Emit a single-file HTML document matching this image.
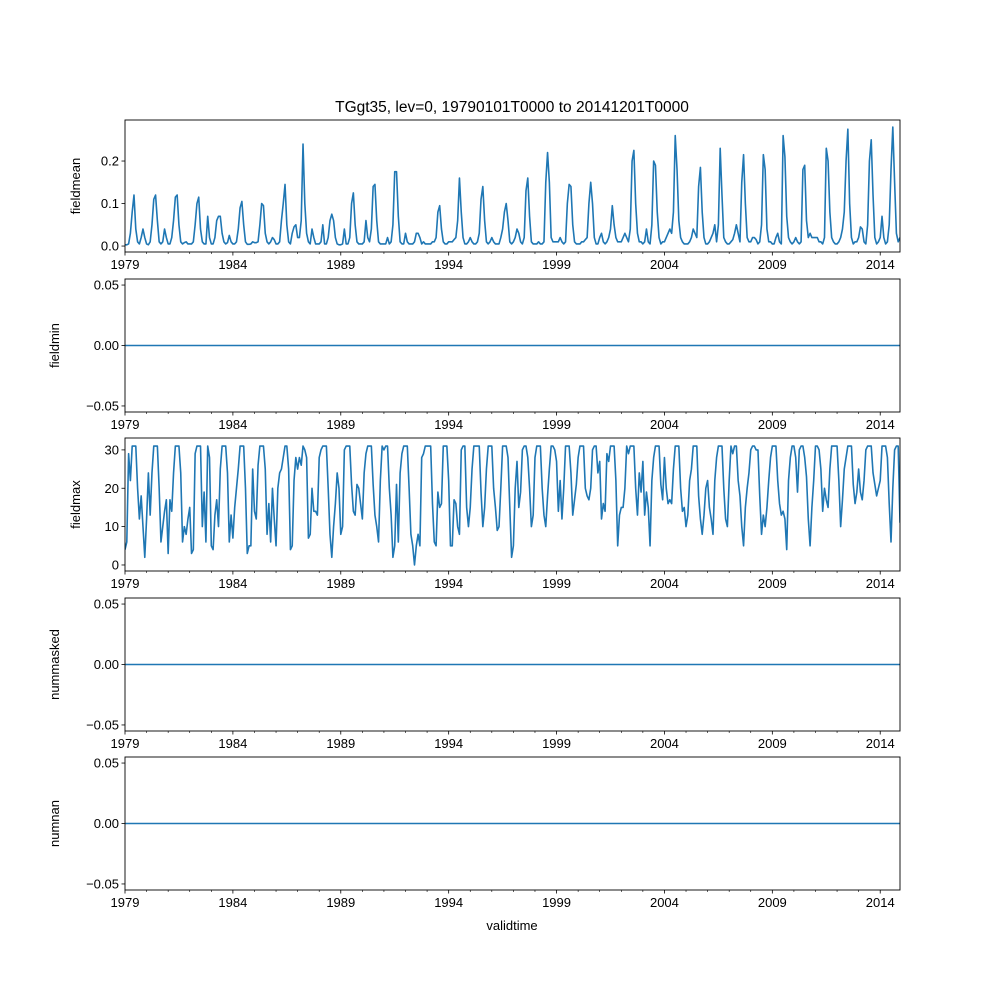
<!DOCTYPE html>
<html><head><meta charset="utf-8"><style>
body{margin:0;background:#fff}
svg text{font-family:"Liberation Sans","DejaVu Sans",sans-serif;font-size:13px;fill:#000}
</style></head><body>
<svg id="fig" width="1000" height="1000" viewBox="0 0 1000 1000" xmlns="http://www.w3.org/2000/svg">
<rect width="1000" height="1000" fill="#fff"/>
<text x="512" y="112" text-anchor="middle" style="font-size:15.5px">TGgt35, lev=0, 19790101T0000 to 20141201T0000</text>
<g id="plots"></g>
<text x="512" y="930" text-anchor="middle">validtime</text>
</svg>
<script>
const startYear = 1979;
const yearTicks = [1979,1984,1989,1994,1999,2004,2009,2014];
const fieldmean = [
[.003,.003,.005,.03,.08,.12,.04,.01,.005,.02,.04,.02],
[.005,.003,.01,.05,.11,.12,.06,.01,.005,.01,.04,.02],
[.005,.005,.02,.06,.115,.12,.05,.01,.005,.008,.01,.005],
[.005,.005,.01,.05,.10,.115,.04,.01,.005,.005,.07,.02],
[.005,.005,.02,.06,.07,.07,.03,.01,.005,.008,.025,.01],
[.005,.005,.01,.04,.09,.105,.05,.01,.004,.004,.005,.01],
[.008,.008,.01,.05,.10,.095,.03,.01,.005,.01,.02,.015],
[.005,.005,.01,.06,.10,.145,.05,.01,.005,.03,.045,.05],
[.02,.02,.06,.24,.10,.03,.01,.005,.04,.02,.005,.005],
[.005,.01,.05,.005,.005,.02,.06,.075,.06,.02,.005,.003],
[.003,.005,.04,.005,.005,.02,.10,.125,.05,.01,.005,.005],
[.005,.01,.06,.02,.01,.04,.14,.145,.06,.01,.005,.005],
[.005,.005,.02,.005,.01,.05,.175,.175,.07,.01,.005,.005],
[.03,.01,.005,.005,.005,.01,.03,.03,.02,.005,.01,.005],
[.005,.005,.005,.01,.01,.02,.08,.095,.04,.01,.005,.005],
[.01,.01,.01,.015,.02,.06,.16,.08,.02,.005,.005,.01],
[.02,.01,.005,.005,.01,.03,.11,.14,.06,.01,.005,.01],
[.02,.01,.005,.005,.005,.02,.04,.08,.10,.06,.01,.005],
[.01,.02,.04,.03,.01,.005,.02,.13,.16,.07,.01,.005],
[.005,.005,.01,.005,.005,.01,.15,.22,.15,.02,.01,.01],
[.01,.01,.02,.01,.005,.01,.10,.145,.14,.05,.01,.005],
[.005,.005,.01,.01,.015,.02,.10,.15,.10,.02,.005,.005],
[.02,.03,.01,.005,.01,.02,.04,.095,.05,.02,.01,.01],
[.01,.02,.03,.02,.01,.04,.2,.225,.1,.03,.01,.01],
[.005,.01,.04,.01,.005,.05,.2,.19,.08,.02,.005,.01],
[.01,.02,.03,.04,.03,.08,.26,.18,.06,.02,.01,.005],
[.005,.005,.01,.02,.04,.03,.02,.14,.185,.08,.02,.005],
[.005,.01,.02,.03,.05,.01,.05,.23,.12,.02,.01,.005],
[.005,.01,.015,.03,.05,.03,.01,.15,.215,.10,.02,.01],
[.01,.02,.02,.015,.005,.01,.05,.215,.18,.04,.01,.01],
[.005,.005,.02,.03,.01,.005,.26,.21,.07,.02,.01,.005],
[.01,.02,.01,.005,.01,.18,.19,.06,.02,.03,.02,.02],
[.02,.02,.01,.01,.005,.02,.23,.2,.08,.02,.01,.005],
[.005,.01,.02,.04,.08,.2,.275,.1,.02,.005,.01,.01],
[.02,.045,.04,.01,.005,.05,.2,.25,.12,.02,.005,.01],
[.02,.07,.02,.005,.01,.05,.18,.28,.15,.03,.01,.02]];
const fieldmax = [
[4,6,29,22,31,31,31,20,12,18,10,2],
[12,24,13,24,31,31,31,20,6,10,14,17],
[3,17,14,24,31,31,31,24,6,10,8,12],
[15,3,4,29,31,31,31,10,19,6,31,28],
[5,4,13,17,10,25,31,31,31,24,6,13],
[7,15,20,25,31,31,31,20,3,5,5,25],
[14,12,26,31,31,31,25,8,16,6,20,12],
[5,20,24,25,28,31,31,25,4,5,22,28],
[25,28,26,31,30,28,7,8,20,14,14,13],
[28,30,31,31,31,20,8,2,10,16,24,20],
[8,10,30,31,31,31,21,14,13,21,20,16],
[12,24,29,31,31,31,21,13,10,6,22,31],
[30,31,31,20,13,2,5,21,6,24,29,31],
[31,31,20,8,5,0,5,8,5,28,29,31],
[31,31,31,16,6,5,19,15,16,31,31,31],
[22,5,5,17,16,10,8,30,31,31,15,10],
[15,25,31,31,31,31,19,10,15,25,31,31],
[31,20,15,9,10,20,31,31,31,28,15,2],
[5,20,27,15,19,30,31,31,28,20,10,13],
[28,31,31,31,20,13,10,18,25,31,31,30],
[27,14,22,12,20,31,31,31,24,13,17,21],
[28,31,31,31,20,18,17,20,30,31,31,24],
[27,12,16,14,29,27,31,31,31,22,5,13],
[15,15,20,31,29,31,31,31,20,13,24,19],
[27,13,19,15,5,22,28,31,31,31,21,17],
[28,20,16,17,16,25,31,31,31,20,14,15],
[10,13,22,25,31,31,31,18,12,8,13,20],
[22,15,12,8,22,28,31,31,31,20,12,10],
[22,31,29,31,31,22,18,10,5,15,20,24],
[30,31,31,30,30,18,8,13,10,15,22,28],
[31,31,31,22,16,13,14,12,4,22,28,31],
[31,28,19,30,31,31,28,23,12,5,15,22],
[31,31,30,25,14,20,17,15,25,31,31,31],
[31,22,10,17,25,28,31,31,31,21,16,19],
[25,19,17,22,30,31,31,31,24,21,18,20],
[22,31,31,31,28,16,6,20,30,31,31,11]];
const zeroSeries = [0];
const meanTicks = [0.0,0.1,0.2];
const meanTickLabels = ["0.0","0.1","0.2"];
const maxTicks = [0,10,20,30];
const zeroTicks = [-0.05,0,0.05];
const zeroTickLabels = ["−0.05","0.00","0.05"];

const NS="http://www.w3.org/2000/svg";
const root=document.getElementById('plots');
const X0=125,X1=900,NM=432;
function xScale(i){return X0+i*(X1-X0)/(NM-1);}
function xYear(y){return xScale((y-startYear)*12);}
function mk(tag,attrs,parent){const e=document.createElementNS(NS,tag);for(const k in attrs)e.setAttribute(k,attrs[k]);(parent||root).appendChild(e);return e;}

const panels=[
 {name:'fieldmean',top:120,bot:252,lo:-0.014,hi:0.2965,data:fieldmean.flat(),ticks:meanTicks,labels:meanTickLabels,lx:80},
 {name:'fieldmin',top:279,bot:412,lo:-0.055,hi:0.055,data:null,ticks:zeroTicks,labels:zeroTickLabels,lx:59},
 {name:'fieldmax',top:438,bot:571,lo:-1.57,hi:33.1,data:fieldmax.flat(),ticks:maxTicks,labels:maxTicks.map(String),lx:80},
 {name:'nummasked',top:598,bot:731,lo:-0.055,hi:0.055,data:null,ticks:zeroTicks,labels:zeroTickLabels,lx:59},
 {name:'numnan',top:757,bot:890,lo:-0.055,hi:0.055,data:null,ticks:zeroTicks,labels:zeroTickLabels,lx:59}];

panels.forEach(p=>{
 const g=mk('g',{});
 
 
 const ys=v=>p.bot-(v-p.lo)/(p.hi-p.lo)*(p.bot-p.top);
 let pts;
 if(p.data){pts=p.data.map((v,i)=>xScale(i).toFixed(2)+','+ys(v).toFixed(2)).join(' ');}
 else{pts=xScale(0)+','+ys(zeroSeries[0])+' '+xScale(NM-1)+','+ys(zeroSeries[0]);}
 const cp=mk('clipPath',{id:'c'+p.name},g);mk('rect',{x:X0,y:p.top,width:X1-X0,height:p.bot-p.top},cp);
 const line=mk('polyline',{points:pts,fill:'none',stroke:'#1f77b4','stroke-width':1.6,'stroke-linejoin':'round','clip-path':'url(#c'+p.name+')'},g);
 
 
 const fr=mk('rect',{x:X0,y:p.top,width:X1-X0,height:p.bot-p.top,fill:'none',stroke:'#000','stroke-width':0.9},g);
 
 
 p.ticks.forEach((t,k)=>{const y=ys(t);mk('line',{x1:X0-3.5,x2:X0,y1:y,y2:y,stroke:'#000','stroke-width':0.8},g);
  const tx=mk('text',{x:X0-6,y:y+4.5,'text-anchor':'end'},g);tx.textContent=p.labels[k];
  
  });
 for(let yr=startYear;yr<=2014;yr++){const x=xYear(yr);const major=yearTicks.includes(yr);
  mk('line',{x1:x,x2:x,y1:p.bot,y2:p.bot+(major?3.5:2),stroke:'#000','stroke-width':major?0.8:0.6},g);
  if(major){const tx=mk('text',{x:x,y:p.bot+17,'text-anchor':'middle'},g);tx.textContent=yr;
   
   }}
 const cy=(p.top+p.bot)/2;
 const yl=mk('text',{x:p.lx,y:cy,'text-anchor':'middle',transform:'rotate(-90 '+p.lx+' '+cy+')'},g);
 yl.textContent=p.name;
 
 
});
</script>
</body></html>
